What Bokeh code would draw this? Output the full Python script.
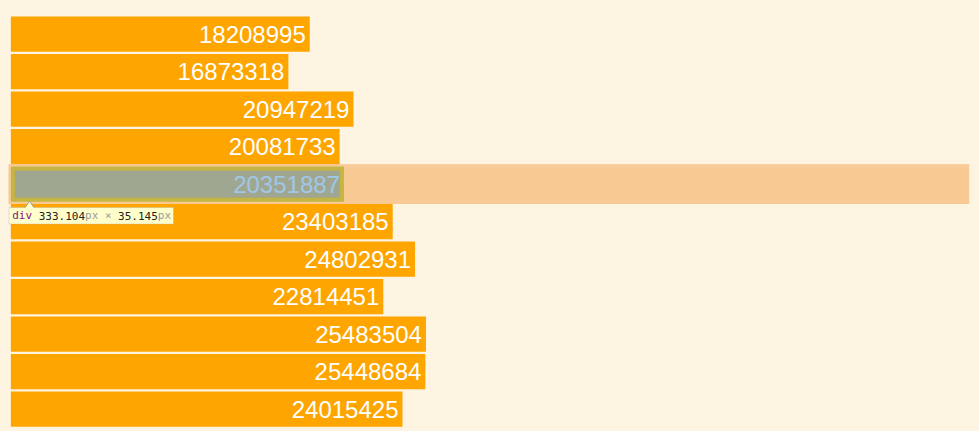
from bokeh.plotting import figure
from bokeh.models import (ColumnDataSource, Range1d, BoxAnnotation, PolyAnnotation,
                          Label, Arrow, GlobalInlineStyleSheet)
from bokeh.core.properties import value
from bokeh.embed import file_html
from bokeh.resources import INLINE

# values, top to bottom
counts = [18208995, 16873318, 20947219, 20081733, 20351887, 23403185,
          24802931, 22814451, 25483504, 25448684, 24015425]
rows = list(range(len(counts)))
labels = [str(c) for c in counts]

# bar under the inspector highlight
picked = 4

BG = "#fdf5e2"
W, H = 979, 431
ROW = 37.5          # px per row
BAR_H = 35.145      # px bar height
TOP = 16            # px above the first bar
LEFT = 10.355       # px before the bars
PAD = 4             # bar padding, px
PX = (333.104 - 2 * PAD) / 20351887   # px per unit

zero_px = LEFT + 2 * PAD
x0 = -zero_px / PX
x1 = (W - zero_px) / PX
yc0 = TOP + BAR_H / 2
y_top = -yc0 / ROW
y_bot = (H - yc0) / ROW


# pixel -> data helpers
def dx(px):
    return x0 + px / PX


def dy(py):
    return y_top + py / ROW


src = ColumnDataSource(data=dict(row=rows, count=counts, label=labels))

p = figure(width=W, height=H, x_range=Range1d(x0, x1), y_range=Range1d(y_bot, y_top),
           x_axis_type=None, y_axis_type=None, output_backend="svg",
           toolbar_location=None, min_border=0, outline_line_color=None,
           background_fill_color=BG, border_fill_color=BG)
p.grid.visible = False
p.stylesheets = [GlobalInlineStyleSheet(css="html, body { background: %s; overflow: hidden; margin: 0; }" % BG)]

# bars carry 4px padding on both sides of the value width
p.hbar(y="row", left=dx(LEFT), right="count", height=BAR_H / ROW, source=src,
       fill_color="#ffa500", line_color=None)
p.text(x="count", y="row", text="label", source=src, x_offset=-PAD,
       text_align="right", text_baseline="middle", text_color="white",
       text_font=value("Liberation Sans"), text_font_size="24px")


# devtools element highlight on the picked bar
def box(l, r, t, b, color, alpha):
    p.add_layout(BoxAnnotation(left=dx(l), right=dx(r), top=dy(t), bottom=dy(b),
                               fill_color=color, fill_alpha=alpha, line_color=None))


bw = counts[picked] * PX + 2 * PAD
bt = TOP + picked * ROW
bl, br, bb = LEFT, LEFT + bw, bt + BAR_H
m, pad = 2.355, PAD
right_edge = W - 8 - m
margin = (246, 178, 107)
box(bl - m, right_edge, bt - m, bt, margin, 0.66)
box(bl - m, right_edge, bb, bb + m, margin, 0.66)
box(bl - m, bl, bt, bb, margin, 0.66)
box(br, right_edge, bt, bb, margin, 0.66)
green = (147, 196, 125)
box(bl, br, bt, bt + pad, green, 0.55)
box(bl, br, bb - pad, bb, green, 0.55)
box(bl, bl + pad, bt + pad, bb - pad, green, 0.55)
box(br - pad, br, bt + pad, bb - pad, green, 0.55)
box(bl + pad, br - pad, bt + pad, bb - pad, (111, 168, 220), 0.66)

# size tooltip
tip_t, tip_b = 207, 223.5
p.add_layout(BoxAnnotation(left=dx(8.5), right=dx(173), top=dy(tip_t), bottom=dy(tip_b),
                           fill_color="#ffffcc", fill_alpha=1, line_color="#a0a0a0", line_width=1))
p.add_layout(PolyAnnotation(xs=[dx(24.5), dx(29), dx(33.5)], ys=[dy(tip_t + 0.8), dy(200.8), dy(tip_t + 0.8)],
                            fill_color="#ffffcc", fill_alpha=1, line_color=None))
for xa in (24.5, 33.5):
    p.add_layout(Arrow(start=None, end=None, x_start=dx(xa), y_start=dy(tip_t), x_end=dx(29), y_end=dy(200.8),
                       line_color="#a0a0a0", line_width=1))

parts = [("div", "#881280"), (" ", "#222"), ("%.3f" % bw, "#222222"), ("px", "#999999"),
         (" ", "#222"), ("\u00d7", "#999999"), (" ", "#222"), ("%.3f" % BAR_H, "#222222"),
         ("px", "#999999")]
cw = 6.62
cx = 11.7
for txt, col in parts:
    if txt.strip():
        p.add_layout(Label(x=dx(cx), y=dy(215.4), text=txt, text_font="DejaVu Sans Mono",
                           text_font_size="11px", text_color=col, text_baseline="middle"))
    cx += cw * len(txt)

open("out.html", "w").write(file_html(p, INLINE))
